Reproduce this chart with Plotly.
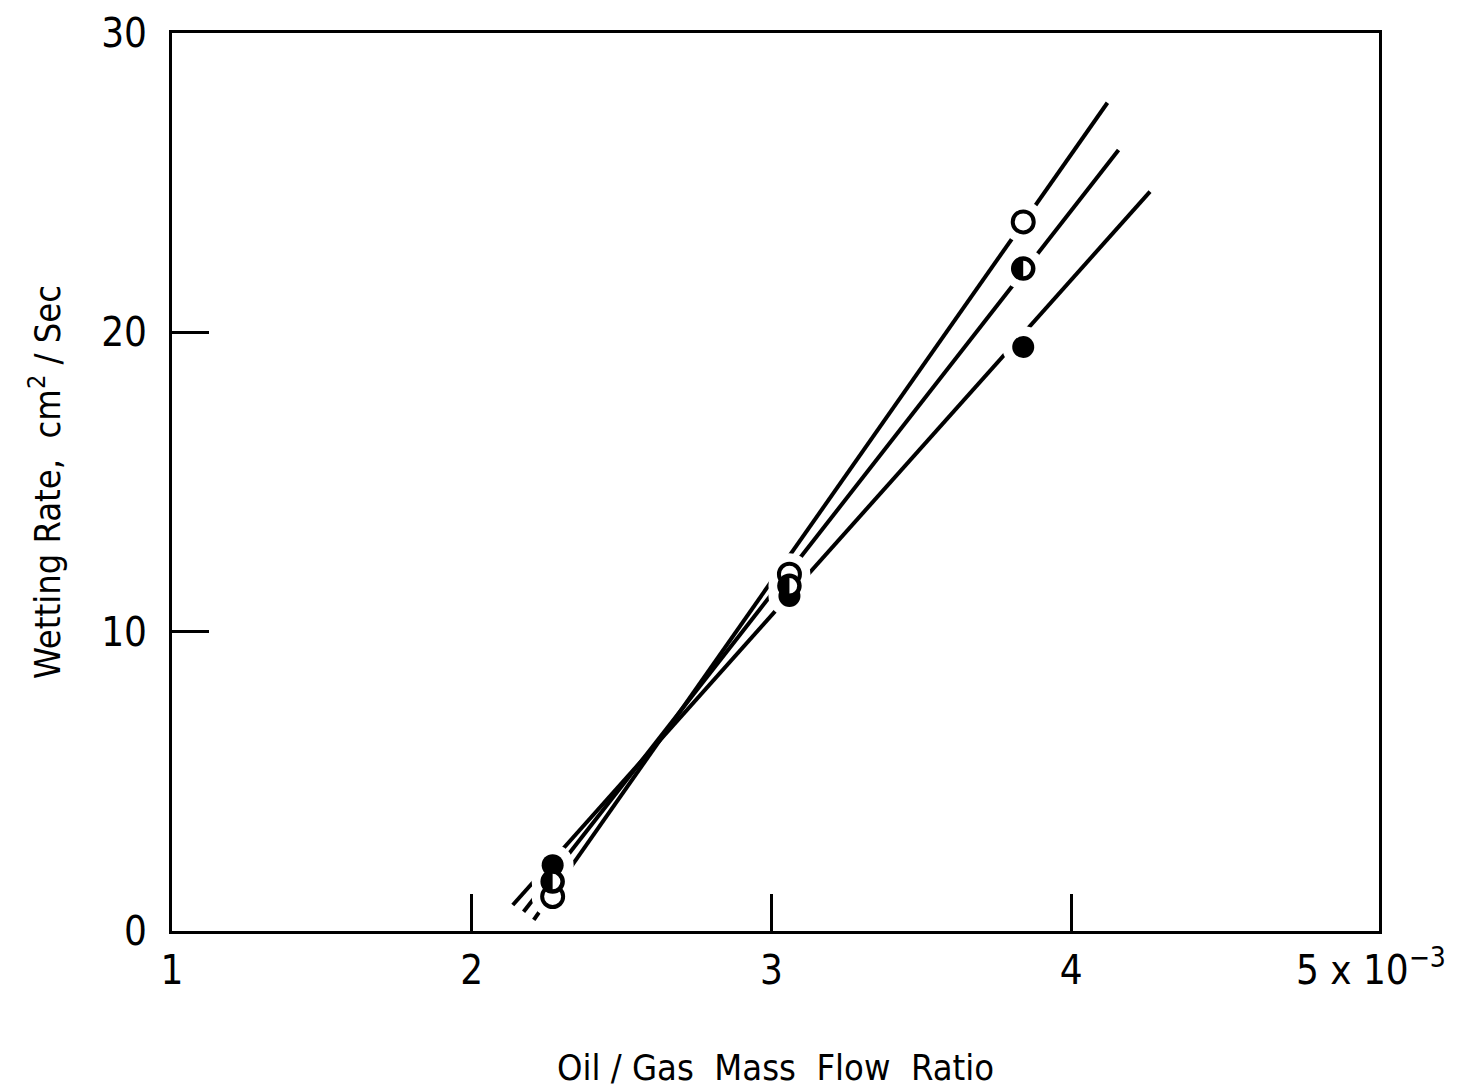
import plotly.graph_objects as go

# ---------------- data ----------------
ratio = [2.27, 3.06, 3.84]                 # Oil/Gas mass flow ratio (x 10^-3)
rate_open = [1.15, 11.92, 23.69]           # open circles
rate_half = [1.65, 11.53, 22.13]           # half-filled circles
rate_filled = [2.20, 11.19, 19.51]         # filled circles

# hand-drawn fit lines (start, end)
line_open_x = [2.207, 4.121]
line_open_y = [0.37, 27.67]
line_half_x = [2.173, 4.158]
line_half_y = [0.64, 26.09]
line_filled_x = [2.137, 4.263]
line_filled_y = [0.87, 24.70]

x_tickvals = [1, 2, 3, 4, 5]
x_ticktext = ["1", "2", "3", "4", "5 x 10<sup>\u22123</sup>"]
x_tickmarks = [2, 3, 4]
y_tickvals = [0, 10, 20, 30]
y_ticktext = ["0", "10", "20", "30"]

FONT = "Liberation Sans Narrow, DejaVu Sans Condensed, Arial Narrow, sans-serif"

fig = go.Figure()

for lx, ly in [(line_open_x, line_open_y), (line_half_x, line_half_y),
               (line_filled_x, line_filled_y)]:
    fig.add_trace(go.Scatter(x=lx, y=ly, mode="lines",
                             line=dict(color="black", width=4),
                             hoverinfo="skip"))

# white halos that break the lines around the symbols
all_x = ratio * 3
all_y = rate_open + rate_half + rate_filled
fig.add_trace(go.Scatter(x=all_x, y=all_y, mode="markers",
                         marker=dict(symbol="circle", size=42, color="white",
                                     line=dict(width=0)),
                         hoverinfo="skip"))

# open circles
fig.add_trace(go.Scatter(x=ratio, y=rate_open, mode="markers",
                         marker=dict(symbol="circle", size=21, color="white",
                                     line=dict(color="black", width=4)),
                         hoverinfo="skip"))
# filled circles
fig.add_trace(go.Scatter(x=ratio, y=rate_filled, mode="markers",
                         marker=dict(symbol="circle", size=22, color="black",
                                     line=dict(color="black", width=0)),
                         hoverinfo="skip"))
# half-filled circles: ring + left half filled
fig.add_trace(go.Scatter(x=ratio, y=rate_half, mode="markers",
                         marker=dict(symbol="circle", size=20, color="white",
                                     line=dict(color="black", width=4.5)),
                         hoverinfo="skip"))
r = 11.5
k = 0.5523 * r
half_path = (f"M 0,{r} C {-k},{r} {-r},{k} {-r},0 "
             f"C {-r},{-k} {-k},{-r} 0,{-r} Z")
for hx, hy in zip(ratio, rate_half):
    fig.add_shape(type="path", xsizemode="pixel", ysizemode="pixel",
                  xanchor=hx, yanchor=hy, path=half_path,
                  fillcolor="black", line=dict(color="black", width=0),
                  layer="above")

fig.update_layout(
    width=1473, height=1088,
    margin=dict(l=172, r=94, t=33, b=157),
    paper_bgcolor="white", plot_bgcolor="white",
    showlegend=False,
    font=dict(family=FONT, color="black", size=38),
)
fig.update_xaxes(
    range=[1, 5.027], tickvals=x_tickvals, ticktext=x_ticktext,
    ticks="",
    minor=dict(tickvals=x_tickmarks, ticks="inside", ticklen=37,
               tickwidth=3, tickcolor="black", showgrid=False),
    showline=True, linewidth=3, linecolor="black", mirror=True,
    showgrid=False, zeroline=False,
    tickfont=dict(family=FONT, size=40),
    ticklabelstandoff=2,
    title=dict(text="Oil / Gas  Mass  Flow  Ratio",
               font=dict(family=FONT, size=36), standoff=66),
    automargin=False,
)
fig.update_yaxes(
    range=[0, 30], tickvals=y_tickvals, ticktext=y_ticktext,
    ticks="inside", ticklen=37, tickwidth=3, tickcolor="black",
    showline=True, linewidth=3, linecolor="black", mirror=True,
    showgrid=False, zeroline=False,
    tickfont=dict(family=FONT, size=40),
    ticklabelstandoff=14,
    title=dict(text="Wetting Rate,  cm<sup>2</sup> / Sec",
               font=dict(family=FONT, size=36), standoff=30),
    automargin=False,
)

fig.write_html("out.html")
